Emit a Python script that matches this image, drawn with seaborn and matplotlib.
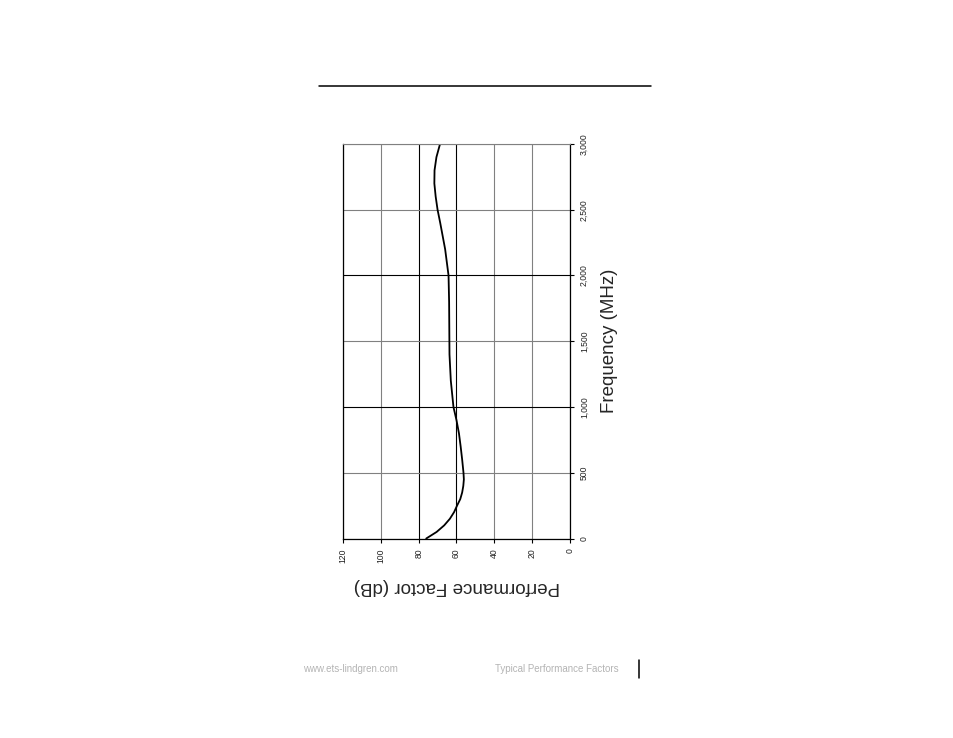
import matplotlib
matplotlib.use("Agg")
import matplotlib.pyplot as plt
import seaborn as sns
import pandas as pd

# ==============================
# DATA
# ==============================
freq_mhz = [0, 50, 100, 150, 200, 250, 300, 350, 400, 450, 500, 600, 700, 800,
            900, 1000, 1200, 1400, 1600, 1800, 2000, 2200, 2400, 2500, 2600,
            2700, 2800, 2900, 3000]
perf_db = [76.0, 70.5, 66.5, 63.5, 61.3, 59.7, 58.0, 57.0, 56.4, 56.1, 56.3,
           57.0, 57.8, 58.7, 60.0, 61.6, 63.0, 63.7, 63.8, 63.9, 64.2, 66.0,
           68.6, 70.0, 71.0, 71.7, 71.6, 70.6, 68.7]

freq_ticks = [0, 500, 1000, 1500, 2000, 2500, 3000]
freq_labels = ["0", "500", "1,000", "1,500", "2,000", "2,500", "3,000"]
db_ticks = [0, 20, 40, 60, 80, 100, 120]
db_labels = ["0", "20", "40", "60", "80", "100", "120"]

df = pd.DataFrame({"Frequency (MHz)": freq_mhz, "Performance Factor (dB)": perf_db})

# ==============================
# STYLE
# ==============================
sns.set_style("white")
plt.rcParams["font.family"] = ["Liberation Sans", "DejaVu Sans"]

fig = plt.figure(figsize=(9.54, 7.38), dpi=100)
ax = fig.add_axes([0.3595, 0.2703, 0.238, 0.5346])

# chart is drawn rotated 90 degrees: frequency runs up, dB runs right-to-left
sns.lineplot(data=df, x="Performance Factor (dB)", y="Frequency (MHz)",
             sort=False, estimator=None, color="black", linewidth=1.3, ax=ax)

ax.set_xlim(120, 0)
ax.set_ylim(0, 3000)

ax.set_xticks(db_ticks)
ax.set_xticklabels(db_labels, rotation=90, fontsize=6.2, color="#222222")
ax.set_yticks(freq_ticks)
ax.set_yticklabels(freq_labels, rotation=90, fontsize=6.2, color="#222222",
                   va="center")
ax.yaxis.tick_right()
ax.yaxis.set_label_position("right")
ax.tick_params(axis="both", direction="out", length=3, width=0.8,
               color="black", pad=4)
ax.tick_params(axis="y", left=False, right=True)
ax.tick_params(axis="x", bottom=True)

# gridlines
ax.grid(True, color="#808080", linewidth=0.8)
for val, line in zip(db_ticks, ax.xaxis.get_gridlines()):
    if val in (60, 80):
        line.set_color("black")
for val, line in zip(freq_ticks, ax.yaxis.get_gridlines()):
    if val in (1000, 2000):
        line.set_color("black")

for side in ["left", "right", "bottom"]:
    ax.spines[side].set_color("black")
    ax.spines[side].set_linewidth(0.9)
ax.spines["top"].set_color("#808080")
ax.spines["top"].set_linewidth(0.8)

ax.set_ylabel("Frequency (MHz)", rotation=90, fontsize=13.5, labelpad=9)
ax.set_xlabel("Performance Factor (dB)", rotation=180, fontsize=13.5, labelpad=11)

# page decorations
fig.add_artist(plt.Line2D([319 / 954, 651 / 954], [1 - 86 / 738, 1 - 86 / 738],
                          color="black", linewidth=1.1))
fig.add_artist(plt.Line2D([639 / 954, 639 / 954], [1 - 660 / 738, 1 - 678 / 738],
                          color="black", linewidth=1.1))
fig.text(303 / 954, 1 - 669 / 738, "www.ets-lindgren.com", fontsize=7,
         color="#b4b4b4", va="center", ha="left")
fig.text(495 / 954, 1 - 669 / 738, "Typical Performance Factors", fontsize=7,
         color="#b4b4b4", va="center", ha="left")

plt.savefig("out.png", dpi=100)
plt.close()
